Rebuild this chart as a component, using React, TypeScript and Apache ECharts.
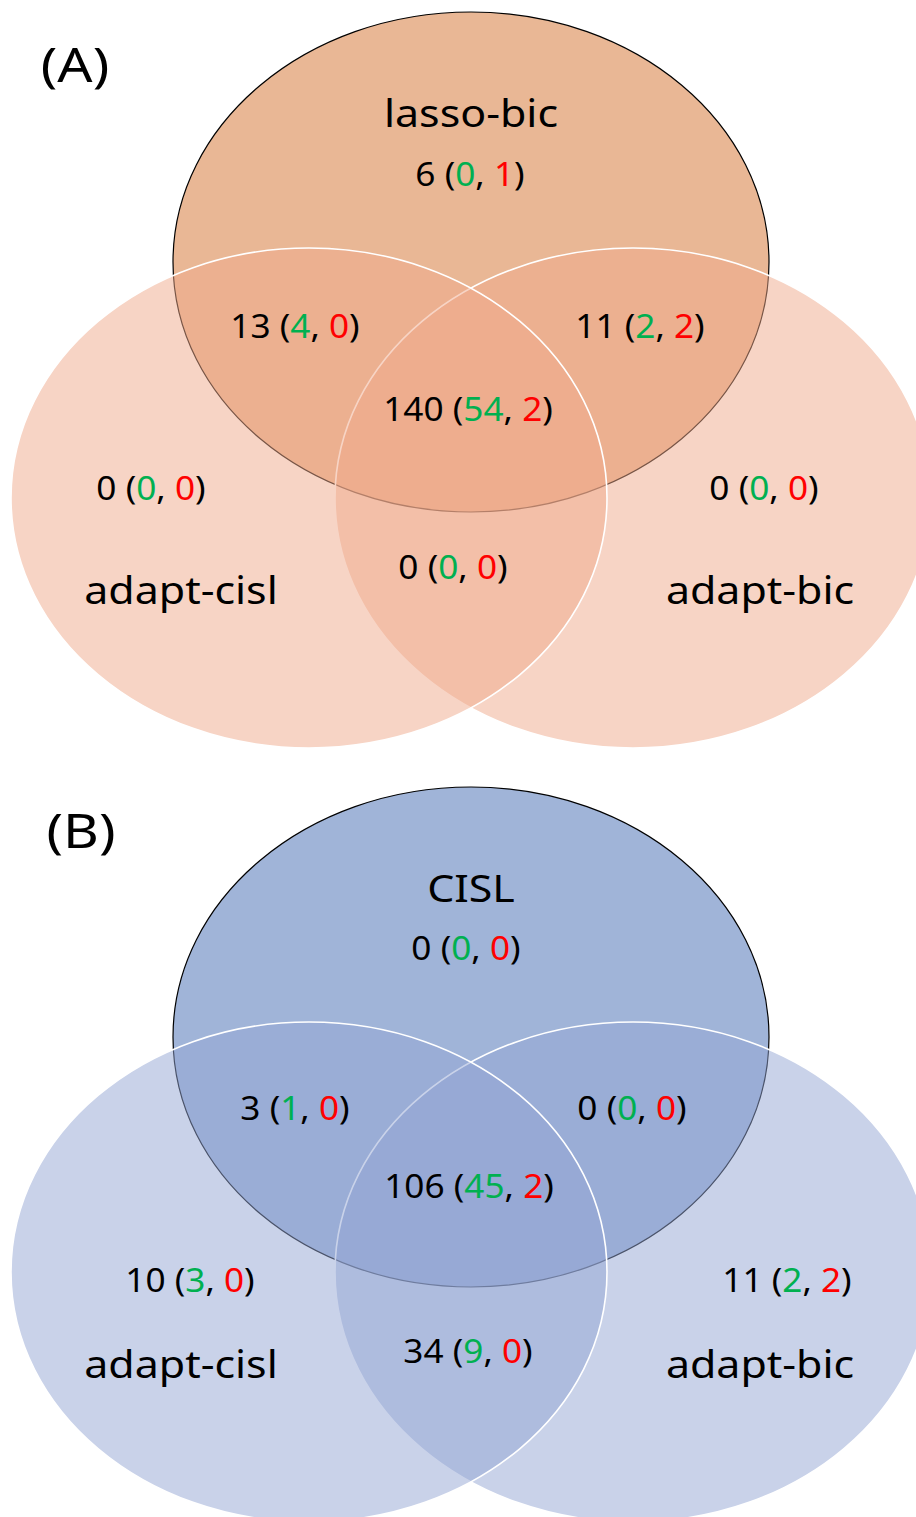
import React, { useEffect, useRef } from "react";
import * as echarts from "echarts";

// ---- data ----
// region order: topOnly, leftOnly, rightOnly, topLeft, topRight, leftRight, all
const setsA = ["lasso-bic", "adapt-cisl", "adapt-bic"];
const totalsA = [6, 0, 0, 13, 11, 0, 140];
const greenA = [0, 0, 0, 4, 2, 0, 54];
const redA = [1, 0, 0, 0, 2, 0, 2];

const setsB = ["CISL", "adapt-cisl", "adapt-bic"];
const totalsB = [0, 10, 11, 3, 0, 34, 106];
const greenB = [0, 3, 2, 1, 0, 9, 45];
const redB = [0, 0, 2, 0, 0, 0, 2];

const panelTags = ["(A)", "(B)"];

// ---- layout ----
const FONT = "'Noto Sans', 'Open Sans', sans-serif";
const TXT_SCALE = 1.1;
const RX = 298;
const RY = 250;

const layoutA = {
  tag: [75, 63],
  top: [471, 262],
  left: [309, 498],
  right: [633, 498],
  regions: [
    [470, 174],
    [151, 488],
    [764, 488],
    [295, 326],
    [640, 326],
    [453, 567],
    [468, 409],
  ],
  labels: [
    [471, 112],
    [181, 589],
    [760, 589],
  ],
};

const layoutB = {
  tag: [81, 829],
  top: [471, 1037],
  left: [309, 1272],
  right: [633, 1272],
  regions: [
    [466, 948],
    [190, 1280],
    [787, 1280],
    [295, 1108],
    [632, 1108],
    [468, 1351],
    [469, 1186],
  ],
  labels: [
    [471, 887],
    [181, 1363],
    [760, 1363],
  ],
};

const themeA = {
  topFill: "#E9B795",
  sideFill: "rgba(240,170,140,0.5)",
};
const themeB = {
  topFill: "#A0B4D8",
  sideFill: "rgba(147,165,211,0.5)",
};

function buildPanel(
  tag: string,
  sets: string[],
  totals: number[],
  green: number[],
  red: number[],
  L: any,
  T: any
) {
  const els: any[] = [];
  els.push({
    type: "ellipse",
    shape: { cx: L.top[0], cy: L.top[1], rx: RX, ry: RY },
    style: { fill: T.topFill, stroke: "#000000", lineWidth: 1.2 },
  });
  els.push({
    type: "ellipse",
    shape: { cx: L.right[0], cy: L.right[1], rx: RX, ry: RY },
    style: { fill: T.sideFill, stroke: "#FFFFFF", lineWidth: 1.6 },
  });
  els.push({
    type: "ellipse",
    shape: { cx: L.left[0], cy: L.left[1], rx: RX, ry: RY },
    style: { fill: T.sideFill, stroke: "#FFFFFF", lineWidth: 1.6 },
  });
  const numSize = 32;
  const rich = {
    k: { fill: "#000000", fontSize: numSize, fontFamily: FONT },
    g: { fill: "#00B050", fontSize: numSize, fontFamily: FONT },
    r: { fill: "#FF0000", fontSize: numSize, fontFamily: FONT },
  };
  totals.forEach((t, i) => {
    const [x, y] = L.regions[i];
    els.push({
      type: "text",
      x,
      y,
      scaleX: TXT_SCALE,
      style: {
        text: `{k|${t} (}{g|${green[i]}}{k|, }{r|${red[i]}}{k|)}`,
        rich,
        fontSize: numSize,
        fontFamily: FONT,
        fill: "#000000",
        align: "center",
        verticalAlign: "middle",
      },
    });
  });
  sets.forEach((s, i) => {
    const [x, y] = L.labels[i];
    els.push({
      type: "text",
      x,
      y,
      scaleX: 1.1,
      style: {
        text: s,
        fontSize: 39,
        fontFamily: FONT,
        fill: "#000000",
        align: "center",
        verticalAlign: "middle",
      },
    });
  });
  els.push({
    type: "text",
    x: L.tag[0],
    y: L.tag[1],
    scaleX: 1.15,
    style: {
      text: tag,
      fontSize: 48,
      fontFamily: FONT,
      fill: "#000000",
      align: "center",
      verticalAlign: "middle",
    },
  });
  return els;
}

export default function App() {
  const ref = useRef<HTMLDivElement>(null);
  useEffect(() => {
    if (!ref.current) return;
    const chart = echarts.init(ref.current, undefined, { renderer: "svg" });
    chart.setOption({
      animation: false,
      backgroundColor: "#FFFFFF",
      graphic: [
        ...buildPanel(panelTags[0], setsA, totalsA, greenA, redA, layoutA, themeA),
        ...buildPanel(panelTags[1], setsB, totalsB, greenB, redB, layoutB, themeB),
      ],
    });
    return () => chart.dispose();
  }, []);
  return (
    <div
      ref={ref}
      style={{ position: "absolute", left: 0, top: 0, width: 916, height: 1517 }}
    />
  );
}
